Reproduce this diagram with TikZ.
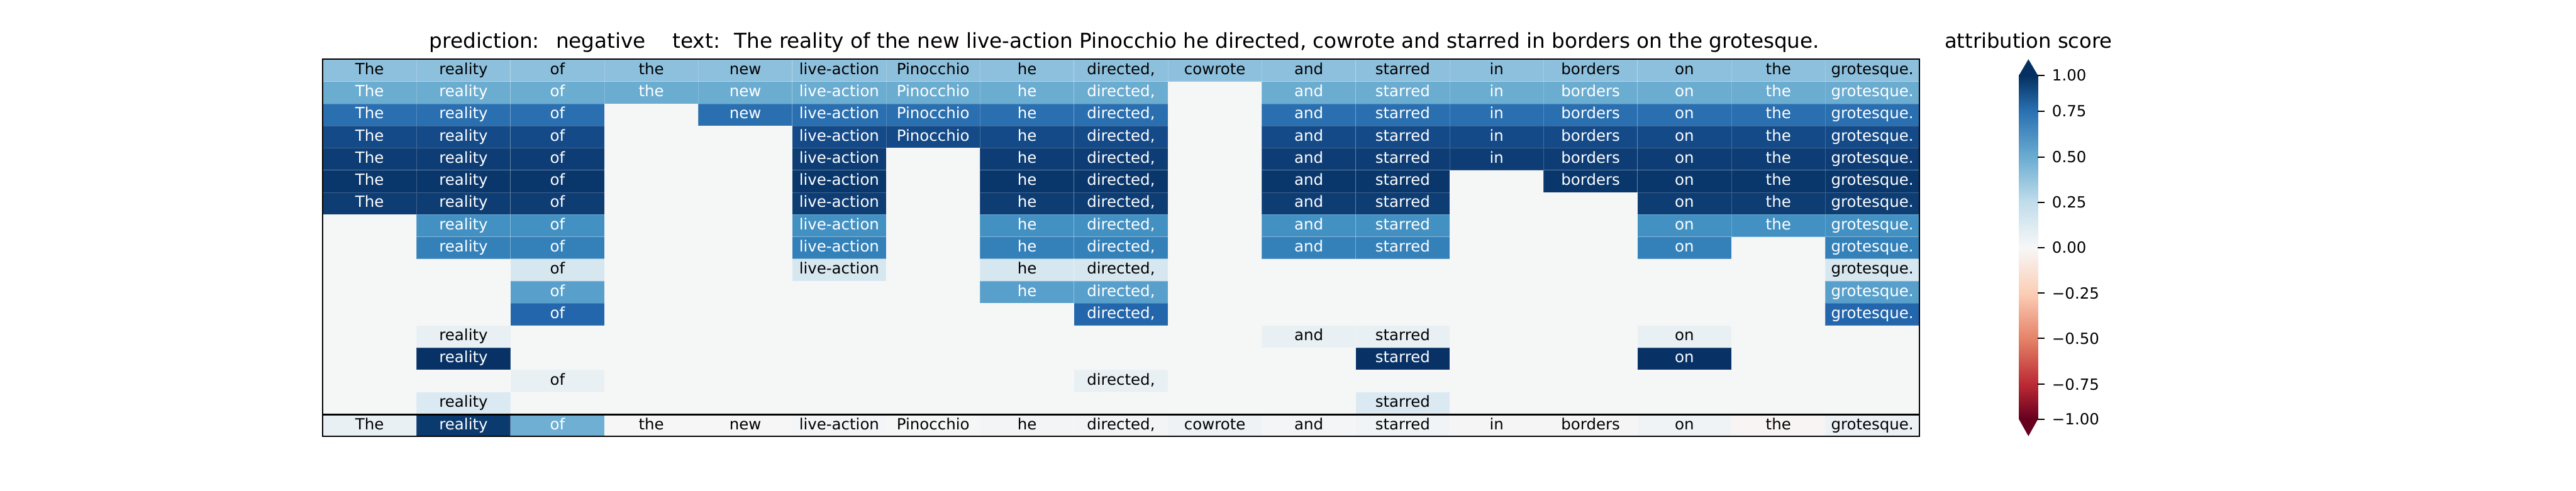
\documentclass[tikz,border=0pt]{standalone}
\usepackage{fontspec}
\setmainfont{DejaVu Sans}
\usetikzlibrary{positioning}

\definecolor{bgcell}{HTML}{F5F6F6}
\definecolor{row1}{HTML}{8DC0DD}
\definecolor{row2}{HTML}{6BACD1}
\definecolor{row3}{HTML}{2A6FB0}
\definecolor{row4}{HTML}{154A88}
\definecolor{row5}{HTML}{0E3D75}
\definecolor{row6}{HTML}{0A376B}
\definecolor{row7}{HTML}{0E3D74}
\definecolor{row8}{HTML}{4391C3}
\definecolor{row9}{HTML}{3481BA}
\definecolor{row10}{HTML}{D7E7F0}
\definecolor{row11}{HTML}{58A0CB}
\definecolor{row12}{HTML}{2366AC}
\definecolor{row13}{HTML}{E8F0F4}
\definecolor{row14}{HTML}{083265}
\definecolor{row15}{HTML}{E9F0F4}
\definecolor{row16}{HTML}{DBE9F2}
\definecolor{bot1}{HTML}{E9F0F4}
\definecolor{bot2}{HTML}{0B3A6F}
\definecolor{bot3}{HTML}{70AFD4}
\definecolor{bot4}{HTML}{F6F6F6}
\definecolor{bot5}{HTML}{F6F6F7}
\definecolor{bot6}{HTML}{F4F5F6}
\definecolor{bot7}{HTML}{F5F6F6}
\definecolor{bot8}{HTML}{F3F4F6}
\definecolor{bot9}{HTML}{F2F4F6}
\definecolor{bot10}{HTML}{EEF2F5}
\definecolor{bot11}{HTML}{F4F5F6}
\definecolor{bot12}{HTML}{F1F4F6}
\definecolor{bot13}{HTML}{F5F5F5}
\definecolor{bot14}{HTML}{F6F5F5}
\definecolor{bot15}{HTML}{EFF3F5}
\definecolor{bot16}{HTML}{F7F4F3}
\definecolor{bot17}{HTML}{EBF1F4}
\definecolor{cb1}{HTML}{053061}
\definecolor{cb2}{HTML}{2971B2}
\definecolor{cb3}{HTML}{6BACD1}
\definecolor{cb4}{HTML}{C1DDEB}
\definecolor{cb5}{HTML}{F7F7F7}
\definecolor{cb6}{HTML}{FBCEB6}
\definecolor{cb7}{HTML}{E58368}
\definecolor{cb8}{HTML}{BB2A34}
\definecolor{cb9}{HTML}{67001F}
\definecolor{ch1}{HTML}{17528F}
\definecolor{ch2}{HTML}{3F8DC0}
\definecolor{ch3}{HTML}{9AC9E0}
\definecolor{ch4}{HTML}{DFECF3}
\definecolor{ch5}{HTML}{FBE6D9}
\definecolor{ch6}{HTML}{F5AC8B}
\definecolor{ch7}{HTML}{D25749}
\definecolor{ch8}{HTML}{960F27}

\newcommand{\tokword}[1]{\ifcase#1 \or The\or reality\or of\or the\or new\or live-action\or Pinocchio\or he\or directed,\or cowrote\or and\or starred\or in\or borders\or on\or the\or grotesque.\fi}

\begin{document}
\begin{tikzpicture}[
  cell/.style={minimum width=2.297cm,minimum height=0.5427cm,inner sep=0pt,outer sep=0pt,
    text height=0.294cm,text depth=0.1cm,font=\fontsize{10.7}{12}\selectfont,
    draw=white,draw opacity=0.2,line width=0.3pt},
  spine/.style={line width=0.95pt},
  bigtext/.style={font=\fontsize{14.3}{16}\selectfont,inner sep=0pt,anchor=base},
  cbtick/.style={font=\fontsize{10.7}{12}\selectfont,inner sep=0pt,anchor=west}]
\useasboundingbox (0,0) rectangle (63,-12);
\fill[white] (0,0) rectangle (63,-12);

\node[bigtext] (title) at (27.5,-1.18) {prediction:\hspace{0.8em}negative\hspace{1.3em}text:\hspace{0.7em}The reality of the new live-action Pinocchio he directed, cowrote and starred in borders on the grotesque.};
\node[bigtext,font=\fontsize{14.1}{16}\selectfont] (cblabel) at (49.61,-1.18) {attribution score};

\fill[bgcell] (7.89,-1.45) rectangle (46.94,-10.133);
\foreach \r/\tc/\cols in {
  1/black/{1,...,17},
  2/white/{1,...,9,11,12,13,14,15,16,17},
  3/white/{1,2,3,5,6,7,8,9,11,12,13,14,15,16,17},
  4/white/{1,2,3,6,7,8,9,11,12,13,14,15,16,17},
  5/white/{1,2,3,6,8,9,11,12,13,14,15,16,17},
  6/white/{1,2,3,6,8,9,11,12,14,15,16,17},
  7/white/{1,2,3,6,8,9,11,12,15,16,17},
  8/white/{2,3,6,8,9,11,12,15,16,17},
  9/white/{2,3,6,8,9,11,12,15,17},
  10/black/{3,6,8,9,17},
  11/white/{3,8,9,17},
  12/white/{3,9,17},
  13/black/{2,11,12,15},
  14/white/{2,12,15},
  15/black/{3,9},
  16/black/{2,12}}{
  \foreach \c in \cols{
    \node[cell,fill=row\r,text=\tc] (w-\r-\c) at ({7.89+2.297*(\c-0.5)},{-1.45-0.5427*(\r-0.5)}) {\tokword{\c}};
  }
}

\foreach \c/\tc in {1/black,2/white,3/white,4/black,5/black,6/black,7/black,8/black,9/black,
  10/black,11/black,12/black,13/black,14/black,15/black,16/black,17/black}{
  \node[cell,fill=bot\c,text=\tc] (b-\c) at ({7.89+2.297*(\c-0.5)},-10.4165) {\tokword{\c}};
}

\draw[spine] (7.89,-1.45) rectangle (46.94,-10.133);
\draw[spine] (7.89,-10.153) rectangle (46.94,-10.68);

\foreach \ya/\yb/\ca/\cm/\cb in {-1.84/-2.72/cb1/ch1/cb2,-2.72/-3.84/cb2/ch2/cb3,-3.84/-4.95/cb3/ch3/cb4,
  -4.95/-6.06/cb4/ch4/cb5,-6.06/-7.17/cb5/ch5/cb6,-7.17/-8.28/cb6/ch6/cb7,-8.28/-9.40/cb7/ch7/cb8,-9.40/-10.26/cb8/ch8/cb9}{
  \shade[top color=\ca,middle color=\cm,bottom color=\cb] (49.375,\ya-0.005) rectangle (49.84,\yb+0.005);
}
\fill[cb1] (49.375,-1.845) -- (49.6075,-1.45) -- (49.84,-1.845) -- cycle;
\fill[cb9] (49.375,-10.255) -- (49.6075,-10.67) -- (49.84,-10.255) -- cycle;

\foreach \y/\lab/\n in {-1.84/1.00/1,-2.72/0.75/2,-3.84/0.50/3,-4.95/0.25/4,-6.06/0.00/5,
  -7.17/−0.25/6,-8.28/−0.50/7,-9.40/−0.75/8,-10.26/−1.00/9}{
  \draw[line width=0.85pt] (49.84,\y) -- (50.0,\y);
  \node[cbtick] (tk\n) at (50.18,\y) {\lab};
}
\end{tikzpicture}
\end{document}
